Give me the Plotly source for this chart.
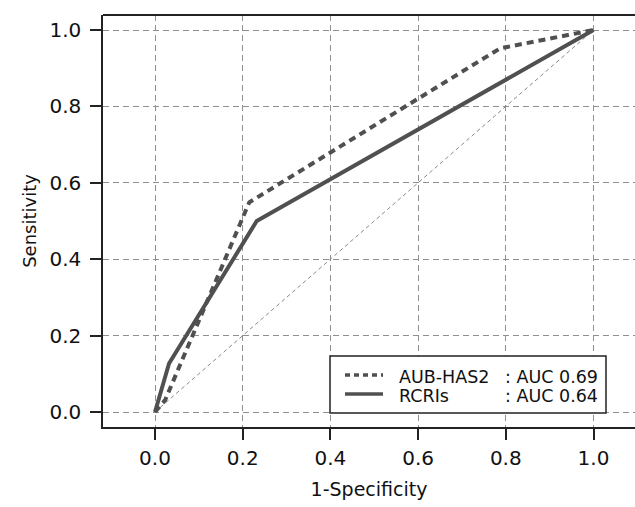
import plotly.graph_objects as go

# Data
fpr_aub = [0.0, 0.023, 0.215, 0.787, 1.0]
tpr_aub = [0.0, 0.031, 0.549, 0.952, 1.0]
fpr_rcri = [0.0, 0.032, 0.232, 1.0]
tpr_rcri = [0.0, 0.127, 0.500, 1.0]
ref_line = [0.0, 1.0]
tick_vals = [0.0, 0.2, 0.4, 0.6, 0.8, 1.0]
tick_text = ["0.0", "0.2", "0.4", "0.6", "0.8", "1.0"]
legend_names = ["AUB-HAS2", "RCRIs"]
legend_auc = [": AUC 0.69", ": AUC 0.64"]

FONT = "DejaVu Sans"
CURVE = "#505050"
GRID = "#8f8f8f"
FRAME = "#222222"

# pixel -> data helpers (plot geometry)
def dx(px):
    return (px - 155) / 438.5

def dy(py):
    return (412 - py) / 382.0

fig = go.Figure()
fig.add_trace(go.Scatter(x=ref_line, y=ref_line, mode="lines",
                         line=dict(color="#8a8a8a", width=1, dash="4px,3px"),
                         showlegend=False, hoverinfo="skip"))
fig.add_trace(go.Scatter(x=fpr_rcri, y=tpr_rcri, mode="lines",
                         line=dict(color=CURVE, width=4),
                         showlegend=False))
fig.add_trace(go.Scatter(x=fpr_aub, y=tpr_aub, mode="lines",
                         line=dict(color=CURVE, width=4, dash="7px,5px"),
                         showlegend=False))

# legend box (manual)
fig.add_shape(type="rect", xref="x", yref="y",
              x0=dx(330), x1=dx(606), y0=dy(413), y1=dy(356),
              line=dict(color=FRAME, width=1.5), fillcolor="white", layer="above")
line_rows = [375, 394]
text_rows = [377, 396]
dashes = ["5px,4px", "solid"]
for i in range(2):
    fig.add_shape(type="line", xref="x", yref="y",
                  x0=dx(345), x1=dx(383), y0=dy(line_rows[i]), y1=dy(line_rows[i]),
                  line=dict(color=CURVE, width=3.5, dash=dashes[i]), layer="above")
    fig.add_annotation(x=dx(397), y=dy(text_rows[i]), xref="x", yref="y",
                       text=legend_names[i], showarrow=False, xanchor="left",
                       yanchor="middle", font=dict(family=FONT, size=17.5, color="#111"))
    fig.add_annotation(x=dx(503), y=dy(text_rows[i]), xref="x", yref="y",
                       text=legend_auc[i], showarrow=False, xanchor="left",
                       yanchor="middle", font=dict(family=FONT, size=17.5, color="#111"))

# top frame line
fig.add_shape(type="line", xref="paper", yref="paper", x0=0, x1=1, y0=1, y1=1,
              line=dict(color=FRAME, width=2))

axis_common = dict(
    tickvals=tick_vals, ticktext=tick_text,
    showgrid=True, gridcolor=GRID, griddash="6px,4px", gridwidth=1,
    zeroline=False, showline=True, linecolor=FRAME, linewidth=1.5,
    ticks="outside", ticklen=11, tickwidth=1.5, tickcolor=FRAME,
    tickfont=dict(family=FONT, size=20, color="#111"),
)

fig.update_layout(
    width=635, height=507,
    margin=dict(l=103, r=0, t=15, b=80),
    paper_bgcolor="white", plot_bgcolor="white",
    xaxis=dict(range=[dx(103), dx(635)], **axis_common, ticklabelstandoff=1,
               title=dict(text="1-Specificity", font=dict(family=FONT, size=19, color="#111"),
                          standoff=14)),
    yaxis=dict(range=[dy(427), dy(15)], **axis_common, ticklabelstandoff=5,
               title=dict(text="Sensitivity", font=dict(family=FONT, size=18, color="#111"),
                          standoff=8)),
    showlegend=False,
)

fig.write_html("out.html")
